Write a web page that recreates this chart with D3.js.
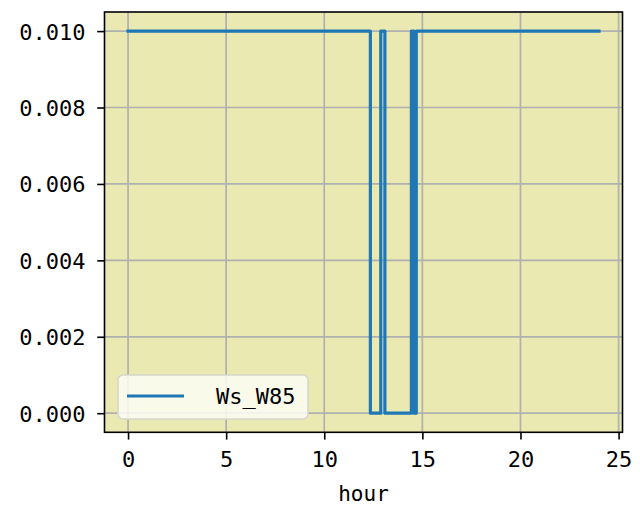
<!DOCTYPE html>
<html>
<head>
<meta charset="utf-8">
<script src="https://cdn.jsdelivr.net/npm/d3@7"></script>
<style>
  html, body { margin: 0; padding: 0; background: #ffffff; }
  svg { display: block; }
  text { font-family: "DejaVu Sans Mono", "Liberation Mono", monospace; fill: #000; }
</style>
</head>
<body>
<svg id="chart" width="640" height="522"></svg>
<script>
// ---- data ----
const seriesName = "Ws_W85";
const changeHours = [0, 12.35, 12.88, 13.09, 14.44, 14.57, 14.69, 24];
const seriesValues = [0.01, 0, 0.01, 0, 0.01, 0, 0.01, 0.01];
const xTicks = [0, 5, 10, 15, 20, 25];
const yTicks = [0, 0.002, 0.004, 0.006, 0.008, 0.010];
const xLabel = "hour";

// ---- layout ----
const svg = d3.select("#chart");
const L = 104.5, R = 622.5, T = 12, B = 432.3;

const x = d3.scaleLinear().domain([-1.2, 25.2]).range([L, R]);
const y = d3.scaleLinear().domain([-0.0005, 0.0105]).range([B, T]);

// background
svg.append("rect").attr("x", L).attr("y", T).attr("width", R - L).attr("height", B - T)
  .attr("fill", "#ebe9b2");

// grid
const grid = svg.append("g").attr("stroke", "#b0b0b0").attr("stroke-width", 1.7);
xTicks.forEach(t => grid.append("line").attr("x1", x(t)).attr("x2", x(t)).attr("y1", T).attr("y2", B));
yTicks.forEach(t => grid.append("line").attr("x1", L).attr("x2", R).attr("y1", y(t)).attr("y2", y(t)));

// line
const data = changeHours.map((h, i) => ({ h, v: seriesValues[i] }));
const line = d3.line().x(d => x(d.h)).y(d => y(d.v)).curve(d3.curveStepAfter);
svg.append("path").datum(data).attr("d", line)
  .attr("fill", "none").attr("stroke", "#1f77b4").attr("stroke-width", 3.2)
  .attr("stroke-linejoin", "round").attr("stroke-linecap", "square");

// axes
const xAxis = d3.axisBottom(x).tickValues(xTicks).tickSize(7.3).tickPadding(7).tickFormat(d3.format("d"));
const yAxis = d3.axisLeft(y).tickValues(yTicks).tickSize(7.3).tickPadding(7).tickFormat(d3.format(".3f"));

const gx = svg.append("g").attr("transform", `translate(0,${B})`).call(xAxis);
const gy = svg.append("g").attr("transform", `translate(${L},0)`).call(yAxis);
[gx, gy].forEach(g => {
  g.select(".domain").remove();
  g.selectAll(".tick line").attr("stroke", "#000").attr("stroke-width", 1.6);
  g.selectAll(".tick text").attr("font-size", 22).attr("fill", "#000")
    .attr("font-family", "DejaVu Sans Mono");
});
gx.selectAll(".tick text").attr("dy", "0.92em");
gy.selectAll(".tick text").attr("dy", "0.36em").attr("x", -19);

// spines
svg.append("rect").attr("x", L).attr("y", T).attr("width", R - L).attr("height", B - T)
  .attr("fill", "none").attr("stroke", "#000").attr("stroke-width", 1.6);

// x label
svg.append("text").attr("x", (L + R) / 2).attr("y", 501).attr("text-anchor", "middle")
  .attr("font-size", 21).text(xLabel);

// legend
const lg = svg.append("g");
lg.append("rect").attr("x", 118).attr("y", 375).attr("width", 190).attr("height", 44)
  .attr("rx", 5).attr("fill", "#fdfdf4").attr("fill-opacity", 0.85)
  .attr("stroke", "#d6d6cc").attr("stroke-width", 1.6);
lg.append("line").attr("x1", 127).attr("x2", 184).attr("y1", 396).attr("y2", 396)
  .attr("stroke", "#1f77b4").attr("stroke-width", 3.2);
lg.append("text").attr("x", 216).attr("y", 404).attr("font-size", 22).text(seriesName);
</script>
</body>
</html>
